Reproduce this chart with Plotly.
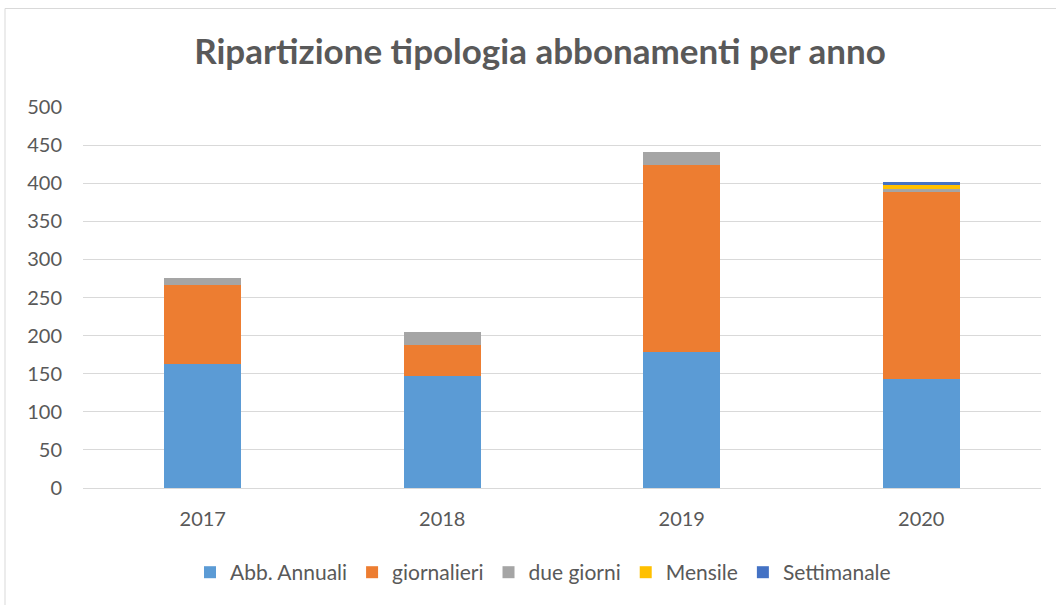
import plotly.graph_objects as go

years = ["2017", "2018", "2019", "2020"]
abb_annuali = [163, 147, 178, 143]
giornalieri = [103, 41, 246, 246]
due_giorni = [10, 17, 17, 4]
mensile = [0, 0, 0, 4]
settimanale = [0, 0, 0, 4]

series = [
    ("Abb. Annuali", abb_annuali, "#5B9BD5"),
    ("giornalieri", giornalieri, "#ED7D31"),
    ("due giorni", due_giorni, "#A5A5A5"),
    ("Mensile", mensile, "#FFC000"),
    ("Settimanale", settimanale, "#4472C4"),
]

fig = go.Figure()
for name, vals, color in series:
    fig.add_trace(go.Bar(x=years, y=vals, name=name,
                         marker=dict(color=color, line=dict(width=0))))

W, H = 1056, 605
ml, mr, mt, mb = 83, 15, 107, 115
pw = W - ml - mr
ph = H - mt - mb

def px_x(x):
    return (x - ml) / pw

def px_y(y):
    return (H - mb - y) / ph

fig.update_layout(
    width=W, height=H,
    barmode="stack",
    bargap=0.68,
    plot_bgcolor="white",
    paper_bgcolor="white",
    margin=dict(l=ml, r=mr, t=mt, b=mb),
    font=dict(family="Lato, Open Sans, sans-serif", color="#595959", size=20),
    title=dict(text="<b>Ripartizione tipologia abbonamenti per anno</b>",
               x=px_x(540), xanchor="center", xref="paper",
               y=1 - 52 / H, yanchor="middle",
               font=dict(size=35, color="#595959", family="Lato, Open Sans, sans-serif")),
    xaxis=dict(showgrid=False, showline=True, linecolor="#d9d9d9", linewidth=1,
               ticks="", ticklabelstandoff=13,
               tickfont=dict(size=20, color="#595959")),
    yaxis=dict(range=[0, 500], dtick=50, showgrid=True, gridcolor="#d9d9d9",
               gridwidth=1, zeroline=False, showline=False, ticks="",
               ticklabelstandoff=20,
               tickfont=dict(size=20, color="#595959")),
    legend=dict(orientation="h", x=px_x(543), xanchor="center",
                y=px_y(575), yanchor="middle",
                font=dict(size=21, color="#595959"),
                itemwidth=30, traceorder="normal"),
    showlegend=True,
)

# outer chart border
fig.add_shape(type="rect", xref="paper", yref="paper",
              x0=px_x(5), x1=px_x(1060), y0=px_y(610), y1=px_y(8),
              line=dict(color="#d9d9d9", width=1), fillcolor="rgba(0,0,0,0)",
              layer="below")

fig.write_html("out.html", config={"displayModeBar": False},
               post_script="document.body.style.margin='0';")
